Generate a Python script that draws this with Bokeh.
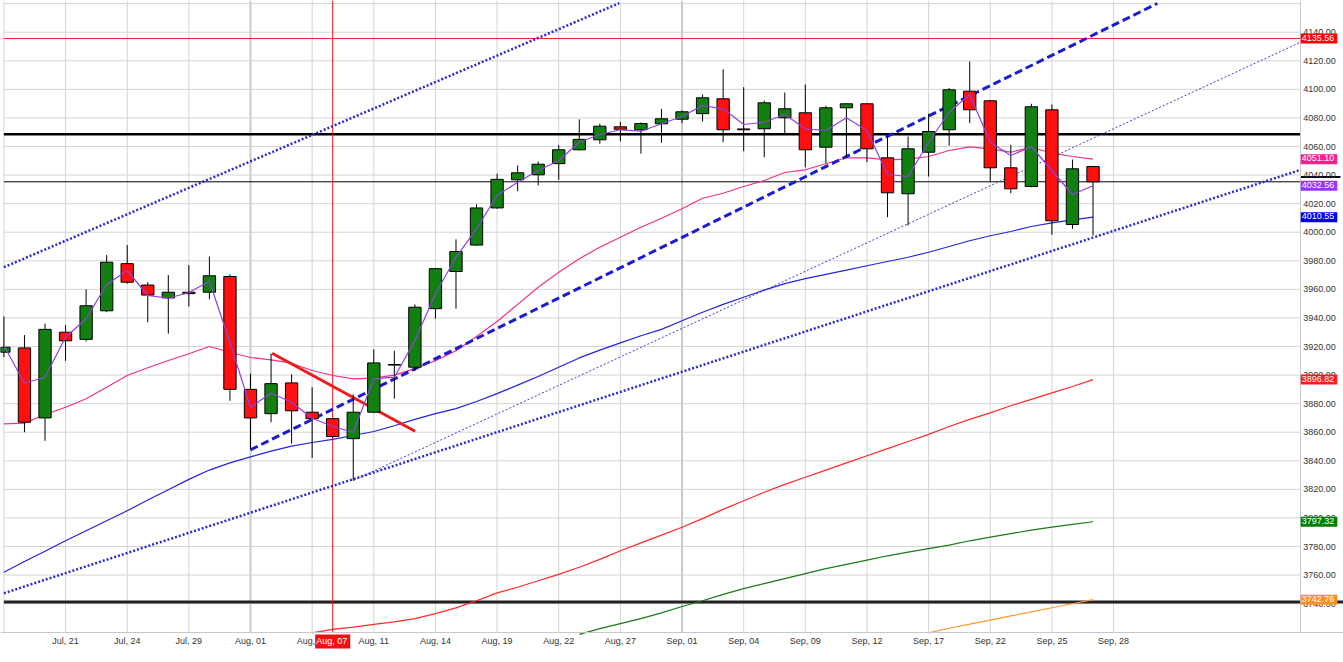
from bokeh.plotting import figure
from bokeh.models import Range1d, FixedTicker, NumeralTickFormatter, Label, ColumnDataSource
from bokeh.embed import file_html
from bokeh.resources import INLINE

# ---------------- data ----------------
opens = [3916, 3919, 3870, 3930, 3925, 3945, 3978, 3963, 3954, 3958,
         3958, 3969, 3890, 3873, 3894.5, 3874, 3869.5, 3855.5, 3874, 3907.0,
         3905.5, 3946.5, 3972.5, 3991, 4017, 4036.7, 4040.2, 4048, 4057.7, 4064.7,
         4073.8, 4071.7, 4075.9, 4079.1, 4083, 4093.4, 4072.3, 4072.4, 4080.1, 4083.6,
         4059.5, 4087.1, 4089.9, 4052.1, 4026.9, 4056, 4071.7, 4098.7, 4092, 4045.1,
         4032, 4085.7, 4005.4, 4046]
highs = [3941, 3928, 3936, 3935, 3960, 3984, 3991, 3965, 3970, 3977,
         3983, 3970.5, 3901, 3915, 3900.5, 3891.5, 3870, 3886.5, 3918, 3917,
         3949.5, 3975, 3995, 4019.5, 4041, 4046.7, 4049.5, 4061, 4079, 4076,
         4077.3, 4076.8, 4086.4, 4085.2, 4096.4, 4114, 4101.5, 4092.2, 4097.8, 4103.4,
         4088.5, 4090.2, 4090.2, 4067.7, 4067, 4083, 4101, 4119.5, 4092.5, 4061.2,
         4089.9, 4089.4, 4050.9, 4046.5]
lows = [3912.5, 3860, 3854, 3910, 3923.5, 3944, 3964, 3937, 3929, 3948,
        3953, 3882, 3848, 3867, 3852, 3842, 3856, 3826.2, 3873.5, 3883.5,
        3903, 3939.5, 3946.5, 3990.5, 4016.5, 4028.7, 4032.7, 4036.7, 4057.2, 4062,
        4063.7, 4055, 4062.6, 4076.3, 4077.5, 4063, 4056.7, 4052.5, 4069.3, 4045.5,
        4048.3, 4052.5, 4049, 4010.5, 4004.7, 4039, 4060.7, 4076.3, 4035.7, 4027.3,
        4031.5, 3998.2, 4002.4, 3997.7]
closes = [3919.5, 3867, 3932, 3924, 3948.5, 3979, 3965, 3956, 3958, 3957,
          3969.5, 3890, 3870, 3894, 3875, 3869.5, 3857, 3874, 3908.5, 3907.4,
          3947.5, 3974.5, 3986.5, 4017, 4037, 4041.6, 4047.6, 4057.7, 4065, 4074.2,
          4072.1, 4076.1, 4079.4, 4084.3, 4094.1, 4071.7, 4071.7, 4090.6, 4086.4, 4057.7,
          4087.1, 4089.9, 4058.4, 4027.6, 4058.4, 4070.5, 4099.7, 4085.7, 4045.1, 4030.4,
          4087.8, 4008, 4044.4, 4035.3]

ma_purple = [3920.7, 3894.3, 3898.5, 3926.5, 3939.4, 3963.4, 3973.2, 3955.7, 3953.8, 3957.8,
             3965.7, 3922.8, 3877.5, 3887.3, 3881, 3869.8, 3864, 3860, 3897.4, 3898.5,
             3924.2, 3956.9, 3982.5, 4002.4, 4025.7, 4035, 4043.2, 4050.2, 4063, 4068.4,
             4071.7, 4070.7, 4075.9, 4081, 4088.7, 4086.4, 4075.4, 4077, 4082.4, 4072.4,
             4071.2, 4080.1, 4071.2, 4040.4, 4039, 4063, 4084, 4096.4, 4063, 4053.7,
             4060, 4043.2, 4026.4, 4032.56]
ma_pink = [3865.9, 3866.3, 3872.4, 3877.5, 3883.4, 3891.5, 3899.7, 3905.1, 3910.2, 3914.9,
           3920.0, 3916.0, 3912.3, 3910.7, 3908.3, 3903.2, 3899.7, 3897.4, 3897.8, 3900.0,
           3904.5, 3910.0, 3917.0, 3927.0, 3937.5, 3949.5, 3961.5, 3972.0, 3981.4, 3989.5,
           3996.5, 4003.5, 4009.8, 4016.4, 4023.8, 4027.3, 4032.0, 4036.2, 4041.8, 4043.7,
           4047.9, 4052.1, 4052.1, 4050.7, 4051.1, 4053.0, 4057.2, 4059.8, 4058.4, 4056.0,
           4059.5, 4055.3, 4053.0, 4051.10]
ma_blue = [3762, 3769.5, 3776.7, 3784, 3791, 3798, 3805, 3812.5, 3819.7, 3827,
           3833.5, 3838.5, 3842.7, 3846.8, 3850.3, 3852.8, 3855, 3857.7, 3860.5, 3864.5,
           3869, 3873, 3876.5, 3881.5, 3887, 3893, 3899, 3905.5, 3912, 3917.5,
           3922.5, 3927.5, 3932, 3938, 3944, 3949.5, 3954.5, 3959.5, 3964, 3967.5,
           3970.5, 3973.5, 3976.5, 3979.5, 3982.5, 3986, 3990, 3994, 3997.5, 4000.5,
           4004, 4006.5, 4008.7, 4010.55]
ma_red_start = 15
ma_red = [3719.5, 3722, 3723.5, 3725.5, 3727.3, 3729.5, 3733, 3737, 3742, 3747.5,
          3751.5, 3756, 3760.5, 3765.5, 3771, 3777, 3782.5, 3788, 3793.5, 3799.5,
          3806, 3812, 3818, 3823.5, 3828.5, 3833.5, 3838.5, 3843.5, 3848.5, 3853.5,
          3858.5, 3864, 3869, 3873.5, 3878.5, 3883, 3887.5, 3892, 3896.82]
ma_green_start = 28
ma_green = [3718.5, 3722.5, 3726, 3729.5, 3733.5, 3738, 3742, 3746.5, 3750.5, 3754,
            3757.5, 3761, 3764.5, 3767.5, 3770.5, 3773.5, 3776, 3778.5, 3781, 3784,
            3786.5, 3789, 3791.5, 3793.5, 3795.5, 3797.32]
ma_orange_start = 45
ma_orange = [3719.5, 3722.8, 3725.7, 3728.5, 3731.4, 3734.2, 3737.1, 3739.9, 3742.76]

tick_idx = [3, 6, 9, 12, 15, 18, 21, 24, 27, 30, 33, 36, 39, 42, 45, 48, 51, 54]
tick_labels = ["Jul, 21", "Jul, 24", "Jul, 29", "Aug, 01", "Aug, 06", "Aug, 11", "Aug, 14",
               "Aug, 19", "Aug, 22", "Aug, 27", "Sep, 01", "Sep, 04", "Sep, 09", "Sep, 12",
               "Sep, 17", "Sep, 22", "Sep, 25", "Sep, 28"]
month_start_idx = [12, 33]
price_ticks = [3740, 3760, 3780, 3800, 3820, 3840, 3860, 3880, 3900, 3920, 3940, 3960,
               3980, 4000, 4020, 4040, 4060, 4080, 4100, 4120, 4140, 4160]

upper_dot_x = [0, 29.94]
upper_dot_y = [3975.5, 4160.3]
lower_dot_x = [0, 63.0]
lower_dot_y = [3747.3, 4043.2]
thin_dot_x = [17, 63.1]
thin_dot_y = [3826.2, 4133.0]
dash_x = [12, 56.13]
dash_y = [3847.7, 4160.1]
red_trend_x = [13.05, 20.01]
red_trend_y = [3915.3, 3860.7]
resistance_level = 4135.56
black_level_top = 4068.6
black_level_bottom = 3741.2
close_marker_level = 4038.6
crosshair_idx = 16
crosshair_label = "Aug, 07"

# ---------------- layout constants ----------------
# the whole canvas is the frame; the chart area is bars [PL, PR] x prices [PB, PT]
X0, X1 = -0.166, 65.19          # canvas edges in bar units
Y0, Y1 = 3698.8, 4162.2         # canvas edges in price units
PL, PR = 0.0, 63.09             # plotting area left / right (bar units)
PB, PT = 3720.0, Y1             # plotting area bottom / top (price units)
GRID = "#d4d4d4"
FONT = "Liberation Sans"

p = figure(width=1343, height=662, output_backend="svg", toolbar_location=None,
           x_range=Range1d(X0, X1), y_range=Range1d(Y0, Y1),
           y_axis_location="right",
           min_border_left=0, min_border_right=0, min_border_top=0, min_border_bottom=0,
           background_fill_color="white", border_fill_color="white",
           outline_line_color=None)
p.grid.visible = False

# axes fixed at the edges of the plotting area
xa, ya = p.xaxis[0], p.yaxis[0]
xa.fixed_location = PB
xa.bounds = (X0, X1)
xa.ticker = FixedTicker(ticks=tick_idx)
xa.major_label_overrides = {t: l for t, l in zip(tick_idx, tick_labels)}
ya.fixed_location = PR
ya.bounds = (PB, PT)
ya.ticker = FixedTicker(ticks=price_ticks)
ya.formatter = NumeralTickFormatter(format="0.00")
ya.major_label_overrides = {4160: ""}
for ax in (xa, ya):
    ax.major_label_text_font = FONT
    ax.major_label_text_font_size = "9px"
    ax.major_label_text_color = "#333333"
    ax.axis_line_color = "#c8c8c8"
    ax.major_tick_line_color = None
    ax.minor_tick_line_color = None
    ax.major_tick_out = 0
    ax.major_tick_in = 0
xa.major_label_standoff = 4
ya.major_label_standoff = 3

# grid limited to the plotting area
p.segment(x0=tick_idx, y0=[PB] * len(tick_idx), x1=tick_idx, y1=[PT] * len(tick_idx),
          line_color=GRID, line_width=1)
p.segment(x0=month_start_idx, y0=[PB] * len(month_start_idx), x1=month_start_idx,
          y1=[PT] * len(month_start_idx), line_color="#cacaca", line_width=2)
p.segment(x0=[PL] * len(price_ticks), y0=price_ticks, x1=[PR] * len(price_ticks), y1=price_ticks,
          line_color=GRID, line_width=1)
p.segment(x0=[PL], y0=[PB], x1=[PL], y1=[PT], line_color=GRID, line_width=1)

# horizontal levels and crosshair
p.segment(x0=[PL], y0=[resistance_level], x1=[PR], y1=[resistance_level], line_color="#e8201c", line_width=1)
p.segment(x0=[PL], y0=[black_level_top], x1=[PR], y1=[black_level_top], line_color="#000000", line_width=2.5)
p.segment(x0=[PL], y0=[closes[-1]], x1=[PR], y1=[closes[-1]], line_color="#000000", line_width=1)
p.segment(x0=[PL], y0=[black_level_bottom], x1=[X1], y1=[black_level_bottom], line_color="#222222", line_width=3)
p.segment(x0=[crosshair_idx], y0=[PB], x1=[crosshair_idx], y1=[PT], line_color="#ee1111", line_width=1)
p.segment(x0=[PR], y0=[close_marker_level], x1=[PR + 1.95], y1=[close_marker_level],
          line_color="#000000", line_width=2)

# moving averages
n = len(closes)
xs = list(range(n))
p.line(xs, ma_blue, line_color="#2424d8", line_width=1.2)
p.line(list(range(ma_red_start, ma_red_start + len(ma_red))), ma_red, line_color="#ff2a2a", line_width=1.2)
p.line(list(range(ma_green_start, ma_green_start + len(ma_green))), ma_green, line_color="#1a7a1a", line_width=1.2)
p.line(list(range(ma_orange_start, ma_orange_start + len(ma_orange))), ma_orange, line_color="#ff9a30", line_width=1.2)
p.line(xs, ma_pink, line_color="#f0308c", line_width=1.2)

# trendlines
p.line(upper_dot_x, upper_dot_y, line_color="#2a2ad0", line_width=2.5, line_dash="2 2")
p.line(lower_dot_x, lower_dot_y, line_color="#2a2ad0", line_width=2.5, line_dash="2 2")
p.line(thin_dot_x, thin_dot_y, line_color="#3a3ad8", line_width=1, line_dash="2 2")
p.line(dash_x, dash_y, line_color="#1c1cd0", line_width=3, line_dash="8 4")
p.line(red_trend_x, red_trend_y, line_color="#ee1c1c", line_width=3)

# candles
colors = ["#118011" if c >= o else "#ff1010" for o, c in zip(opens, closes)]
src = ColumnDataSource(dict(x=xs, o=opens, h=highs, l=lows, c=closes,
                            top=[max(o, c) for o, c in zip(opens, closes)],
                            bot=[min(o, c) for o, c in zip(opens, closes)],
                            col=colors))
p.segment(x0="x", y0="l", x1="x", y1="h", source=src, line_color="black", line_width=1)
p.vbar(x="x", width=0.6, top="top", bottom="bot", source=src,
       fill_color="col", line_color="black", line_width=1)

p.line(xs, ma_purple, line_color="#9040e0", line_width=1.2)

# value tags on the price scale
tag_x = PR + 0.02
tags = [
    (resistance_level, "#ff0000"),
    (ma_pink[-1], "#f0228c"),
    (ma_purple[-1], "#9933ff"),
    (ma_blue[-1], "#0000f0"),
    (ma_red[-1], "#ff1a1a"),
    (ma_green[-1], "#008000"),
    (ma_orange[-1], "#ff9020"),
]
for val, col in tags:
    p.add_layout(Label(x=tag_x, y=val, text="%.2f" % val, text_color="white",
                       text_font=FONT, text_font_size="9px",
                       text_align="left", text_baseline="middle",
                       background_fill_color=col, padding=(1, 3, 1, 3)))

p.add_layout(Label(x=crosshair_idx, y=3713.5, text=crosshair_label, text_color="white",
                   text_font=FONT, text_font_size="9px",
                   text_align="center", text_baseline="middle",
                   background_fill_color="#ee1111", padding=(1, 3, 1, 3)))

open("out.html", "w").write(file_html(p, INLINE))
